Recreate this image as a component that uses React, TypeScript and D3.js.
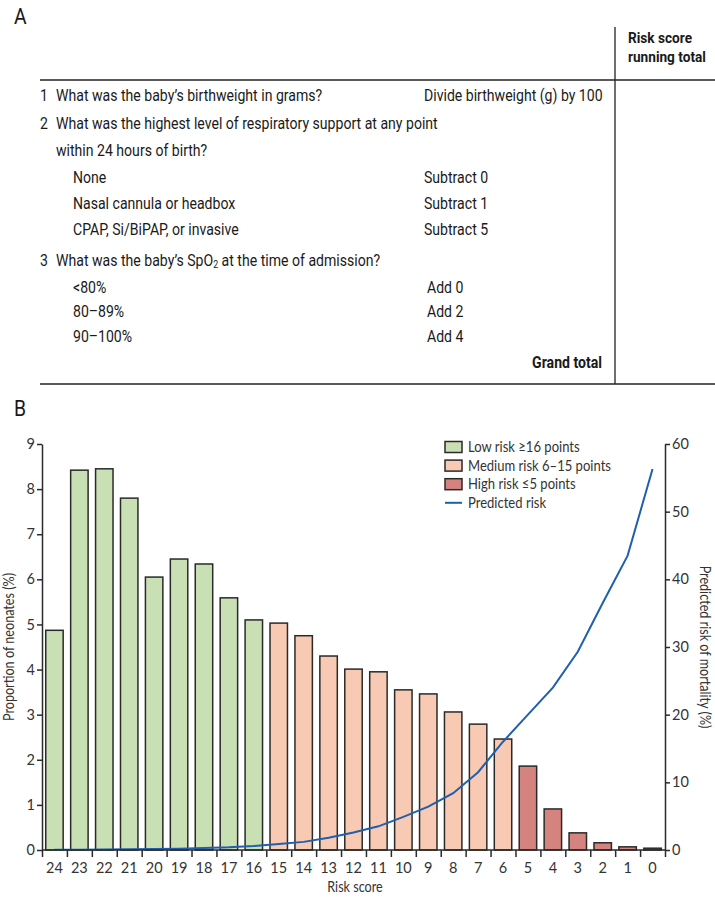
import React, { useEffect, useRef } from "react";
import * as d3 from "d3";

// panel A table
const questionNums = ["1", "2", "3"];
const questionLines = [
  ["What was the baby\u2019s birthweight in grams?"],
  ["What was the highest level of respiratory support at any point", "within 24 hours of birth?"],
  ["What was the baby\u2019s SpO|2| at the time of admission?"],
];
const questionRules = ["Divide birthweight (g) by 100", "", ""];
const supportOptions = ["None", "Nasal cannula or headbox", "CPAP, Si/BiPAP, or invasive"];
const supportRules = ["Subtract 0", "Subtract 1", "Subtract 5"];
const spo2Options = ["<80%", "80\u201389%", "90\u2013100%"];
const spo2Rules = ["Add 0", "Add 2", "Add 4"];

// panel B chart
const scores = [24, 23, 22, 21, 20, 19, 18, 17, 16, 15, 14, 13, 12, 11, 10, 9, 8, 7, 6, 5, 4, 3, 2, 1, 0];
const proportion = [4.87, 8.42, 8.45, 7.8, 6.05, 6.45, 6.34, 5.59, 5.1, 5.03, 4.75, 4.3, 4.01, 3.95, 3.55, 3.46, 3.06, 2.79, 2.46, 1.86, 0.91, 0.38, 0.16, 0.07, 0.04];
const predictedRisk = [0.02, 0.04, 0.06, 0.1, 0.15, 0.2, 0.3, 0.4, 0.6, 0.9, 1.2, 1.8, 2.6, 3.5, 4.9, 6.4, 8.4, 11.5, 16, 20, 24, 29.3, 36.5, 43.5, 56.3];
const leftTicks = [0, 1, 2, 3, 4, 5, 6, 7, 8, 9];
const rightTicks = [0, 10, 20, 30, 40, 50, 60];
const legendItems = [
  { key: "low", label: "Low risk \u226516 points" },
  { key: "medium", label: "Medium risk 6\u201315 points" },
  { key: "high", label: "High risk \u22645 points" },
  { key: "line", label: "Predicted risk" },
];

const riskColor: Record<string, string> = { low: "#c9e0b5", medium: "#f9cab3", high: "#d4837f" };
const riskGroup = (s: number) => (s >= 16 ? "low" : s >= 6 ? "medium" : "high");

const tableFont = "Roboto, 'Noto Sans', sans-serif";
const chartFont = "Lato, 'Open Sans', sans-serif";
const SX = 0.88; // horizontal squeeze to mimic a condensed face
const CSX = 0.87; // same for chart labels

// condensed text helper
const NText = ({ x, y, anchor, bold, size, children }: any) => (
  <text
    transform={`translate(${x},${y}) scale(${SX},1)`}
    textAnchor={anchor || "start"}
    fontWeight={bold ? "bold" : "normal"}
    fontSize={size || 16}
    dominantBaseline="middle"
  >
    {children}
  </text>
);

const renderQuestion = (s: string) => {
  const parts = s.split("|");
  if (parts.length === 1) return s;
  return (
    <>
      {parts[0]}
      <tspan fontSize={10} dy={4}>{parts[1]}</tspan>
      <tspan dy={-4}>{parts[2]}</tspan>
    </>
  );
};

const TableA = () => {
  const rows: { y: number; x: number; text: string; num?: string; rule?: string; ruleX?: number }[] = [];
  let y = 97;
  questionLines.forEach((lines, qi) => {
    lines.forEach((l, li) => {
      rows.push({ y, x: 56, text: l, num: li === 0 ? questionNums[qi] : undefined, rule: li === 0 ? questionRules[qi] : "", ruleX: 424 });
      y += 27.5;
    });
    const opts = qi === 1 ? supportOptions : qi === 2 ? spo2Options : [];
    const rules = qi === 1 ? supportRules : qi === 2 ? spo2Rules : [];
    opts.forEach((o, oi) => {
      rows.push({ y: y - 1, x: 73, text: o, rule: rules[oi], ruleX: qi === 2 ? 427 : 424 });
      y += qi === 1 ? 26 : 24.5;
    });
    if (opts.length) y += 4.5;
  });
  return (
    <g fontFamily={tableFont} fill="#1a1a1a">
      <NText x={14} y={18} size={22}>A</NText>
      <line x1={615} x2={615} y1={27} y2={384} stroke="#222" strokeWidth={1.3} />
      <NText x={628} y={39} bold size={15.5}>Risk score</NText>
      <NText x={628} y={58} bold size={15.5}>running total</NText>
      <line x1={40} x2={715} y1={80} y2={80} stroke="#222" strokeWidth={1.6} />
      {rows.map((r, i) => (
        <g key={i}>
          {r.num && <NText x={40} y={r.y}>{r.num}</NText>}
          <NText x={r.x} y={r.y}>{renderQuestion(r.text)}</NText>
          {r.rule && <NText x={r.ruleX} y={r.y}>{r.rule}</NText>}
        </g>
      ))}
      <NText x={602} y={364} anchor="end" bold size={16}>Grand total</NText>
      <line x1={40} x2={715} y1={384} y2={384} stroke="#222" strokeWidth={1.6} />
    </g>
  );
};

const ChartB = () => {
  const ref = useRef<SVGGElement>(null);
  useEffect(() => {
    const g = d3.select(ref.current);
    g.selectAll("*").remove();
    const left = 42, right = 665, top = 444, bottom = 850;
    const x = d3.scaleBand<number>().domain(scores).range([left, right]).paddingInner(0.3).paddingOuter(0.15);
    const xEdge = d3.scaleLinear().domain([0, scores.length]).range([left, right]);
    const yL = d3.scaleLinear().domain([0, 9]).range([bottom, top]);
    const yR = d3.scaleLinear().domain([0, 60]).range([bottom, top]);

    g.append("text").attr("transform", `translate(14,416) scale(${SX},1)`).attr("font-size", 22)
      .attr("font-family", tableFont).attr("fill", "#1a1a1a").text("B");

    // bars
    g.selectAll("rect.bar").data(scores).join("rect").attr("class", "bar")
      .attr("x", (d) => x(d)!)
      .attr("width", x.bandwidth())
      .attr("y", (_, i) => yL(proportion[i]))
      .attr("height", (_, i) => yL(0) - yL(proportion[i]))
      .attr("fill", (d) => riskColor[riskGroup(d)])
      .attr("stroke", "#2a2a2a").attr("stroke-width", 1.5);

    // predicted risk line
    const line = d3.line<number>()
      .x((_, i) => x(scores[i])! + x.bandwidth() / 2)
      .y((d) => yR(d));
    g.append("path").datum(predictedRisk).attr("d", line)
      .attr("fill", "none").attr("stroke", "#1f5fae").attr("stroke-width", 2);

    const styleAxis = (sel: d3.Selection<SVGGElement, unknown, null, undefined>) => {
      sel.selectAll("path, line").attr("stroke", "#2a2a2a").attr("stroke-width", 1.5);
      sel.selectAll("text").attr("font-family", chartFont).attr("font-size", 14.5).attr("fill", "#333");
    };

    const axL = g.append("g").attr("transform", `translate(${left},0)`)
      .call(d3.axisLeft(yL).tickValues(leftTicks).tickSize(5).tickSizeOuter(0).tickPadding(2));
    styleAxis(axL);
    const axR = g.append("g").attr("transform", `translate(${right},0)`)
      .call(d3.axisRight(yR).tickValues(rightTicks).tickSize(5).tickSizeOuter(0).tickPadding(2));
    styleAxis(axR);
    const axB = g.append("g").attr("transform", `translate(0,${bottom})`)
      .call(d3.axisBottom(xEdge).tickValues(d3.range(scores.length + 1)).tickSize(7).tickSizeOuter(0).tickFormat(() => ""));
    styleAxis(axB);
    axB.select(".domain").remove();
    g.append("line").attr("x1", left).attr("x2", right).attr("y1", bottom).attr("y2", bottom)
      .attr("stroke", "#2a2a2a").attr("stroke-width", 1.5);

    g.selectAll("text.xl").data(scores).join("text").attr("class", "xl")
      .attr("x", (d) => x(d)! + x.bandwidth() / 2).attr("y", 873)
      .attr("text-anchor", "middle").attr("font-family", chartFont).attr("font-size", 14.5).attr("fill", "#333")
      .text((d) => d);

    g.append("text").attr("transform", `translate(355,892) scale(${CSX},1)`).attr("text-anchor", "middle")
      .attr("font-family", chartFont).attr("font-size", 14.5).attr("fill", "#333").text("Risk score");
    g.append("text").attr("transform", `translate(14,${(top + bottom) / 2}) rotate(-90) scale(${CSX},1)`)
      .attr("text-anchor", "middle").attr("font-family", chartFont).attr("font-size", 14.5).attr("fill", "#333")
      .text("Proportion of neonates (%)");
    g.append("text").attr("transform", `translate(700,${(top + bottom) / 2}) rotate(90) scale(${CSX},1)`)
      .attr("text-anchor", "middle").attr("font-family", chartFont).attr("font-size", 14.5).attr("fill", "#333")
      .text("Predicted risk of mortality (%)");

    // legend
    const lg = g.append("g").attr("transform", "translate(445,447)");
    legendItems.forEach((it, i) => {
      const row = lg.append("g").attr("transform", `translate(0,${i * 18.6})`);
      if (it.key === "line") {
        row.append("line").attr("x1", 0).attr("x2", 17).attr("stroke", "#1f5fae").attr("stroke-width", 2);
      } else {
        row.append("rect").attr("x", 0).attr("y", -5.5).attr("width", 17).attr("height", 11)
          .attr("fill", riskColor[it.key]).attr("stroke", "#2a2a2a").attr("stroke-width", 1.5);
      }
      row.append("text").attr("transform", `translate(23,0) scale(${CSX},1)`).attr("dy", "0.35em")
        .attr("font-family", chartFont).attr("font-size", 15).attr("fill", "#333").text(it.label);
    });
  }, []);
  return <g ref={ref} />;
};

export default function App() {
  return (
    <svg width={715} height={898} style={{ position: "absolute", left: 0, top: 0, background: "#fff" }}>
      <TableA />
      <ChartB />
    </svg>
  );
}
